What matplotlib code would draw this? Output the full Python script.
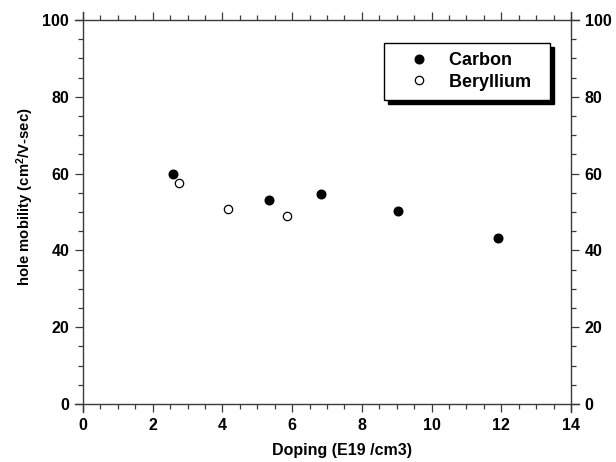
import matplotlib
matplotlib.use("Agg")
import matplotlib.pyplot as plt
from matplotlib.ticker import MultipleLocator

plt.rcParams['font.family'] = ['Liberation Sans', 'DejaVu Sans']
plt.rcParams['font.weight'] = 'bold'
plt.rcParams['mathtext.default'] = 'regular'

# data
carbon_x = [2.58, 5.35, 6.84, 9.05, 11.92]
carbon_y = [60.0, 53.0, 54.8, 50.2, 43.3]
beryl_x = [2.76, 4.16, 5.85]
beryl_y = [57.6, 50.9, 49.0]

x_ticks = [0, 2, 4, 6, 8, 10, 12, 14]
y_ticks = [0, 20, 40, 60, 80, 100]

axis_col = '#3a3a3a'

fig = plt.figure(figsize=(6.16, 4.62), dpi=100)
ax = fig.add_axes([75 / 616, 1 - 412 / 462, 504 / 616, 400 / 462])

ax.plot(carbon_x, carbon_y, 'o', color='black', markersize=6.2, label='Carbon  ')
ax.plot(beryl_x, beryl_y, 'o', markerfacecolor='white', markeredgecolor='black',
        markeredgewidth=0.9, markersize=6, label='Beryllium  ')

# spines sit on the data range, axes extend a little beyond it
ax.set_xlim(-0.23, 14.23)
ax.set_ylim(-2.1, 102.1)
ax.spines['left'].set_position(('data', 0))
ax.spines['right'].set_position(('data', 14))
ax.spines['bottom'].set_position(('data', 0))
ax.spines['top'].set_position(('data', 100))
for s in ax.spines.values():
    s.set_color(axis_col)
    s.set_linewidth(1.0)

ax.set_xticks(x_ticks)
ax.set_yticks(y_ticks)
ax.xaxis.set_minor_locator(MultipleLocator(0.5))
ax.yaxis.set_minor_locator(MultipleLocator(5))
ax.tick_params(which='both', direction='out', top=True, right=True,
               labelright=True, color=axis_col, width=0.9)
ax.tick_params(which='major', length=6, pad=4, labelsize=11.5)
ax.tick_params(which='minor', length=3.3)

# axis titles sit a bit off-centre in the original
fig.text(342 / 616, 1 - 455 / 462, 'Doping (E19 /cm3)', fontsize=11.5,
         fontweight='bold', ha='center', va='baseline')
fig.text(25 / 616, 1 - 197 / 462, 'hole mobility (cm$^{2}$/V-sec)', fontsize=10.7,
         fontweight='bold', ha='center', va='center', rotation=90)

leg = ax.legend(loc='upper left', bbox_to_anchor=(384 / 616, 1 - 43 / 462),
                bbox_transform=fig.transFigure, borderaxespad=0,
                fancybox=False, edgecolor='black', framealpha=1,
                shadow={'color': 'black', 'alpha': 1, 'ox': 3, 'oy': -3},
                prop={'size': 13, 'weight': 'bold'}, handlelength=2.88,
                handletextpad=0.22, borderpad=0.5, labelspacing=0.25,
                numpoints=1)
leg.get_frame().set_linewidth(1.0)

fig.savefig('out.png', dpi=100)
